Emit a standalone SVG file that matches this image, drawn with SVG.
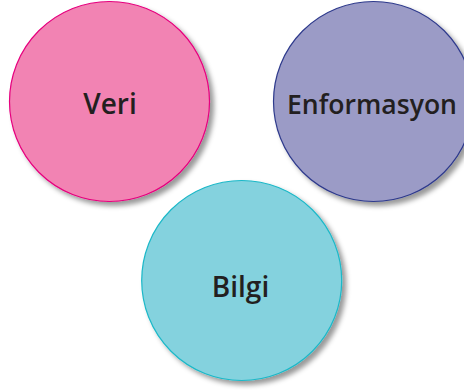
<svg xmlns="http://www.w3.org/2000/svg" width="464" height="390" viewBox="0 0 464 390">
  <style>
    .label { font-family: "Open Sans", "Liberation Sans", sans-serif; font-weight: 600; font-size: 28px; fill: #231f20; text-anchor: middle; }
    .disc { stroke-width: 1.2; filter: url(#shadow); }
  </style>
  <defs>
    <filter id="shadow" x="-20%" y="-20%" width="150%" height="150%">
      <feGaussianBlur in="SourceAlpha" stdDeviation="2.5"/>
      <feOffset dx="4" dy="4" result="b"/>
      <feFlood flood-color="#000" flood-opacity="0.4"/>
      <feComposite in2="b" operator="in"/>
      <feMerge>
        <feMergeNode/>
        <feMergeNode in="SourceGraphic"/>
      </feMerge>
    </filter>
  </defs>
  <rect width="464" height="390" fill="#fff"/>
  <g id="veri">
    <circle class="disc" cx="109.5" cy="101.5" r="100" fill="#f283b3" stroke="#e6007e"/>
    <text class="label" x="110" y="114">Veri</text>
  </g>
  <g id="enformasyon">
    <circle class="disc" cx="373.5" cy="101.5" r="100" fill="#9b9bc6" stroke="#2e3a8c"/>
    <text class="label" x="372" y="114" style="font-size:27px" textLength="170" lengthAdjust="spacingAndGlyphs">Enformasyon</text>
  </g>
  <g id="bilgi">
    <circle class="disc" cx="241.7" cy="280.5" r="100" fill="#84d2de" stroke="#1bb8c8"/>
    <text class="label" x="240.5" y="297">Bilgi</text>
  </g>
</svg>
